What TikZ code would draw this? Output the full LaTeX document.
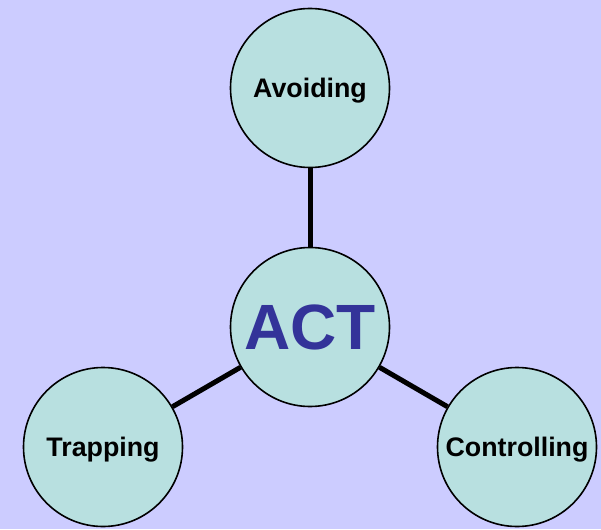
\documentclass[tikz,border=0pt]{standalone}
\usepackage{fontspec}
\setmainfont{Liberation Sans}
\definecolor{lavender}{HTML}{CCCCFF}
\definecolor{pale}{HTML}{B8E0E0}
\definecolor{actblue}{HTML}{333399}

\begin{document}
\begin{tikzpicture}[x=1pt,y=-1pt,
    ring/.style={circle,draw=black,line width=1.6pt,fill=pale,minimum size=159pt,inner sep=0pt,
                 text depth=0pt,font=\fontsize{26.8}{30}\selectfont\bfseries},
    spoke/.style={line width=5pt}]
    \fill[lavender] (0,0) rectangle (601,529);
    \useasboundingbox (0,0) rectangle (601,529);
    \node[ring](avoid) at (310,88) {Avoiding};
    \node[ring,text=actblue,font=\fontsize{64}{70}\selectfont\bfseries](act) at (310,327) {ACT};
    \node[ring](trap) at (103,447) {Trapping};
    \node[ring](ctrl) at (517,447) {Controlling};
    \draw[spoke] (avoid) -- (act);
    \draw[spoke] (act) -- (trap);
    \draw[spoke] (act) -- (ctrl);
\end{tikzpicture}
\end{document}
